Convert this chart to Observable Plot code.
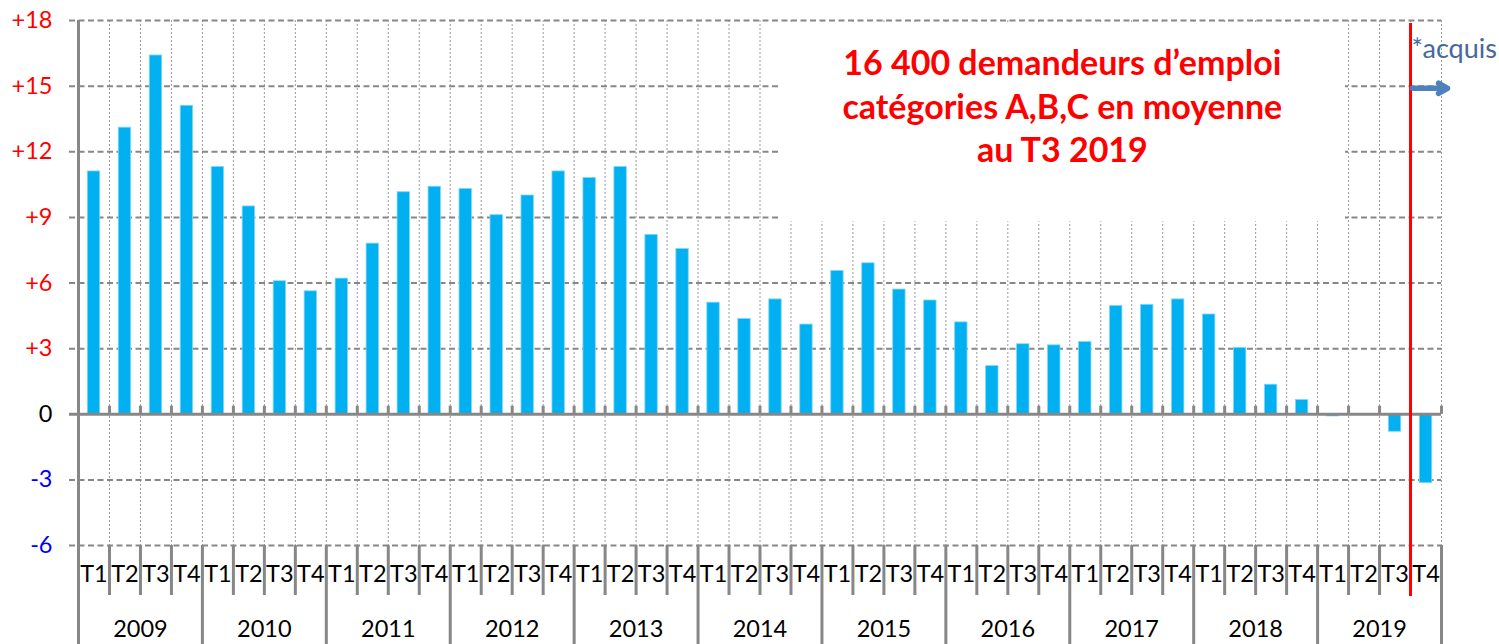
<!DOCTYPE html>
<html>
<head>
<meta charset="utf-8">
<script src="https://cdn.jsdelivr.net/npm/d3@7"></script>
<script src="https://cdn.jsdelivr.net/npm/@observablehq/plot@0.6"></script>
<style>
  html, body { margin: 0; padding: 0; background: #fff; }
  #chart svg { display: block; }
</style>
</head>
<body>
<div id="chart"></div>
<script>
// ---- Data ----
const years = ["2009","2010","2011","2012","2013","2014","2015","2016","2017","2018","2019"];
const quarters = ["T1","T2","T3","T4"];
const values = [
  11.1, 13.1, 16.4, 14.1,
  11.3, 9.5, 6.08, 5.62,
  6.2, 7.8, 10.15, 10.4,
  10.3, 9.1, 10.0, 11.1,
  10.8, 11.3, 8.2, 7.55,
  5.1, 4.35, 5.25, 4.1,
  6.55, 6.9, 5.7, 5.2,
  4.2, 2.2, 3.2, 3.15,
  3.3, 4.95, 5.0, 5.25,
  4.56, 3.03, 1.35, 0.65,
  -0.1, 0, -0.8, -3.15
];
const yTicks = [-6, -3, 0, 3, 6, 9, 12, 15, 18];
const annotationLines = ["16 400 demandeurs d’emploi", "catégories A,B,C en moyenne", "au T3 2019"];
const acquisLabel = "*acquis";

// ---- Derived tables ----
const rows = values.map((v, i) => ({
  i, value: v, year: years[Math.floor(i / 4)], quarter: quarters[i % 4]
}));
const n = rows.length;
const boundaries = d3.range(0, n + 1);
const quarterBounds = boundaries.filter(b => b % 4 !== 0);
const yearBounds = boundaries.filter(b => b % 4 === 0);
const yearRows = years.map((y, k) => ({year: y, mid: k * 4 + 2}));
const splitIndex = 43;            // boundary between 2019 T3 and T4
const arrowLevel = 14.9;
const box = {x1: 22.66, x2: 40.9, y1: 8.8, y2: 17.85};
const textCenter = 31.76;

const tickColor = d => d > 0 ? "#ff0000" : d < 0 ? "#0000ff" : "#000000";
const tickFmt = d => d > 0 ? "+" + d : String(d);
const grey = "#878787";
const font = "Lato, 'Open Sans', sans-serif";

const chart = Plot.plot({
  width: 1499,
  height: 644,
  marginLeft: 78,
  marginRight: 58,
  marginTop: 20,
  marginBottom: 99,
  style: {fontFamily: font, background: "#fff", overflow: "visible"},
  x: {domain: [0, n], axis: null},
  y: {domain: [-6, 18], axis: null},
  marks: [
    // vertical dotted gridlines
    Plot.ruleX(boundaries.slice(1), {x: d => d, stroke: "#9a9a9a", strokeWidth: 1, strokeDasharray: "2,2"}),
    // horizontal dashed gridlines (with outside tick)
    Plot.ruleY(yTicks.filter(d => d !== 0), {y: d => d, stroke: grey, strokeWidth: 2, strokeDasharray: "6,3.5", insetLeft: -9}),
    // white annotation box
    Plot.rect([box], {x1: "x1", x2: "x2", y1: "y1", y2: "y2", fill: "#ffffff"}),
    // bars
    Plot.rectY(rows, {x1: d => d.i, x2: d => d.i + 1, y1: 0, y2: "value", fill: "#00b0f0", stroke: "#7fd6f7", strokeWidth: 0.8, insetLeft: 9.3, insetRight: 9.3}),
    // zero line + small ticks
    Plot.ruleY([0], {stroke: grey, strokeWidth: 3, insetLeft: -9}),
    Plot.ruleX(boundaries.slice(1), {x: d => d, y1: 0, y2: 0, insetBottom: 8, stroke: grey, strokeWidth: 3}),
    // left axis line (down through category axis)
    Plot.ruleX([0], {x: d => d, stroke: grey, strokeWidth: 3, insetBottom: -99}),
    // category axis separators
    Plot.ruleX(quarterBounds, {x: d => d, y1: -6, y2: -6, insetBottom: -50, stroke: grey, strokeWidth: 3}),
    Plot.ruleX(yearBounds, {x: d => d, y1: -6, y2: -6, insetBottom: -99, stroke: grey, strokeWidth: 3}),
    // y tick labels
    Plot.text(yTicks, {y: d => d, frameAnchor: "left", dx: -26, textAnchor: "end", text: tickFmt, fill: tickColor, fontSize: 23.5}),
    // quarter labels
    Plot.text(rows, {x: d => d.i + 0.5, frameAnchor: "bottom", dy: 36, text: "quarter", fill: "#000", fontSize: 23.5}),
    // year labels
    Plot.text(yearRows, {x: "mid", frameAnchor: "bottom", dy: 91, text: "year", fill: "#000", fontSize: 23.5}),
    // annotation text
    Plot.text([annotationLines.join("\n")], {x: textCenter, y: box.y2, dy: 81, lineAnchor: "middle", lineHeight: 1.28, text: d => d, fill: "#ff0000", fontSize: 34, fontWeight: "bold"}),
    // red split line
    Plot.ruleX([splitIndex], {x: d => d, stroke: "#ff0000", strokeWidth: 3, insetTop: 3, insetBottom: -51}),
    // acquis label
    Plot.text([acquisLabel], {x: splitIndex, y: 18, dx: 1, dy: 29, textAnchor: "start", text: d => d, fill: "#44699f", fontSize: 27}),
    // arrow
    Plot.arrow([{x1: splitIndex, x2: splitIndex + 1, y: arrowLevel}], {x1: "x1", x2: "x2", y1: "y", y2: "y", stroke: "#4f81bd", strokeWidth: 5.5, headLength: 18, insetStart: 2, insetEnd: -6, style: {filter: "drop-shadow(2px 3px 2px rgba(0,0,0,0.35))"}})
  ]
});
document.getElementById("chart").append(chart);
</script>
</body>
</html>
